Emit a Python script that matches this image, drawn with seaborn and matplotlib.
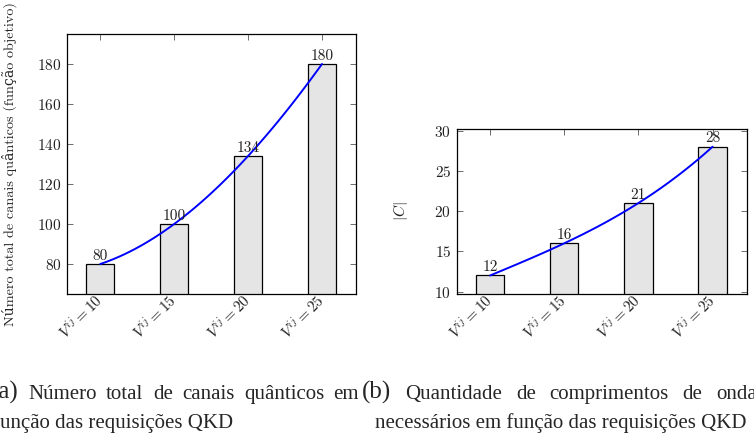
import numpy as np
import pandas as pd
import matplotlib
matplotlib.use('Agg')
import matplotlib.pyplot as plt
import seaborn as sns

sns.set_style('ticks')
plt.rcParams['font.family'] = ['cmr10', 'DejaVu Serif']
plt.rcParams['mathtext.fontset'] = 'cm'
plt.rcParams['axes.formatter.use_mathtext'] = True

# data
requests = [10, 15, 20, 25]
tick_labels = [r'$V^{ij} = %d$' % v for v in requests]
channels = [80, 100, 134, 180]
wavelengths = [12, 16, 21, 28]

df_a = pd.DataFrame({'req': tick_labels, 'val': channels})
df_b = pd.DataFrame({'req': tick_labels, 'val': wavelengths})

W, H = 754, 436
fig = plt.figure(figsize=(W / 100, H / 100), dpi=100)

ax1 = fig.add_axes([67 / W, 1 - 294 / H, 289 / W, 260 / H])
ax2 = fig.add_axes([456.7 / W, 1 - 294 / H, 290 / W, 165 / H])

FS = 11


def draw(ax, df, ylim, yticks, ylabel, lab_x, lab_fs):
    sns.barplot(data=df, x='req', y='val', ax=ax, color='#e5e5e5',
                edgecolor='black', linewidth=0.9, width=0.38, saturation=1)
    for c in ax.containers:
        ax.bar_label(c, padding=1, fontsize=FS, color='#222222')
    # smooth curve through bar tops
    xs = np.arange(len(df))
    sns.regplot(x=xs, y=df['val'].values, order=3, ci=None, scatter=False,
                truncate=True, ax=ax, line_kws={'color': '#0000ff', 'lw': 1.4})
    ax.set_xlim(-0.45, 3.46)
    ax.set_ylim(*ylim)
    ax.set_yticks(yticks)
    ax.set_xticks(xs)
    ax.set_xticklabels(df['req'], rotation=45, ha='right', va='center',
                       rotation_mode='anchor', fontsize=FS, color='#222222')
    ax.tick_params(axis='y', labelsize=FS, labelcolor='#222222', pad=4)
    ax.tick_params(axis='x', pad=3)
    ax.tick_params(direction='in', top=True, right=True, length=4.5,
                   width=0.6, color='#555555')
    ax.set_xlabel('')
    ax.set_ylabel(ylabel, fontsize=lab_fs, color='#222222')
    ax.yaxis.set_label_coords(lab_x, 0.5)
    for s in ax.spines.values():
        s.set_visible(True)
        s.set_linewidth(0.9)
        s.set_color('black')


draw(ax1, df_a, (65, 195), [80, 100, 120, 140, 160, 180],
     'Número total de canais quânticos (função objetivo)', -0.173, 10.2)
draw(ax2, df_b, (9.7, 30.2), [10, 15, 20, 25, 30], r'$|C|$', -0.16, FS)

# captions (justified first lines, like the LaTeX subcaptions)
CAP = 15
renderer = fig.canvas.get_renderer()


def justify(words, x0, x1, y, label_fs=18):
    texts = []
    for i, w in enumerate(words):
        fs = label_fs if i == 0 else CAP
        t = fig.text(0, y / H, w, fontsize=fs, family='Liberation Serif',
                     ha='left', va='baseline', transform=fig.transFigure)
        texts.append(t)
    widths = [t.get_window_extent(renderer).width for t in texts]
    gap = (x1 - x0 - sum(widths)) / (len(words) - 1)
    x = x0
    for t, w in zip(texts, widths):
        t.set_x(x / W)
        x += w + gap


justify(['(a)', 'Número', 'total', 'de', 'canais', 'quânticos', 'em'],
        -9, 359, H - 399)
justify(['(b)', 'Quantidade', 'de', 'comprimentos', 'de', 'onda'],
        362, 757, H - 399)
fig.text(-7 / W, 1 - 428 / H, 'função das requisições QKD', fontsize=CAP,
         family='Liberation Serif', ha='left', va='baseline')
fig.text(375 / W, 1 - 428 / H, 'necessários em função das requisições QKD',
         fontsize=CAP, family='Liberation Serif', ha='left', va='baseline')

fig.savefig('out.png', dpi=100)
